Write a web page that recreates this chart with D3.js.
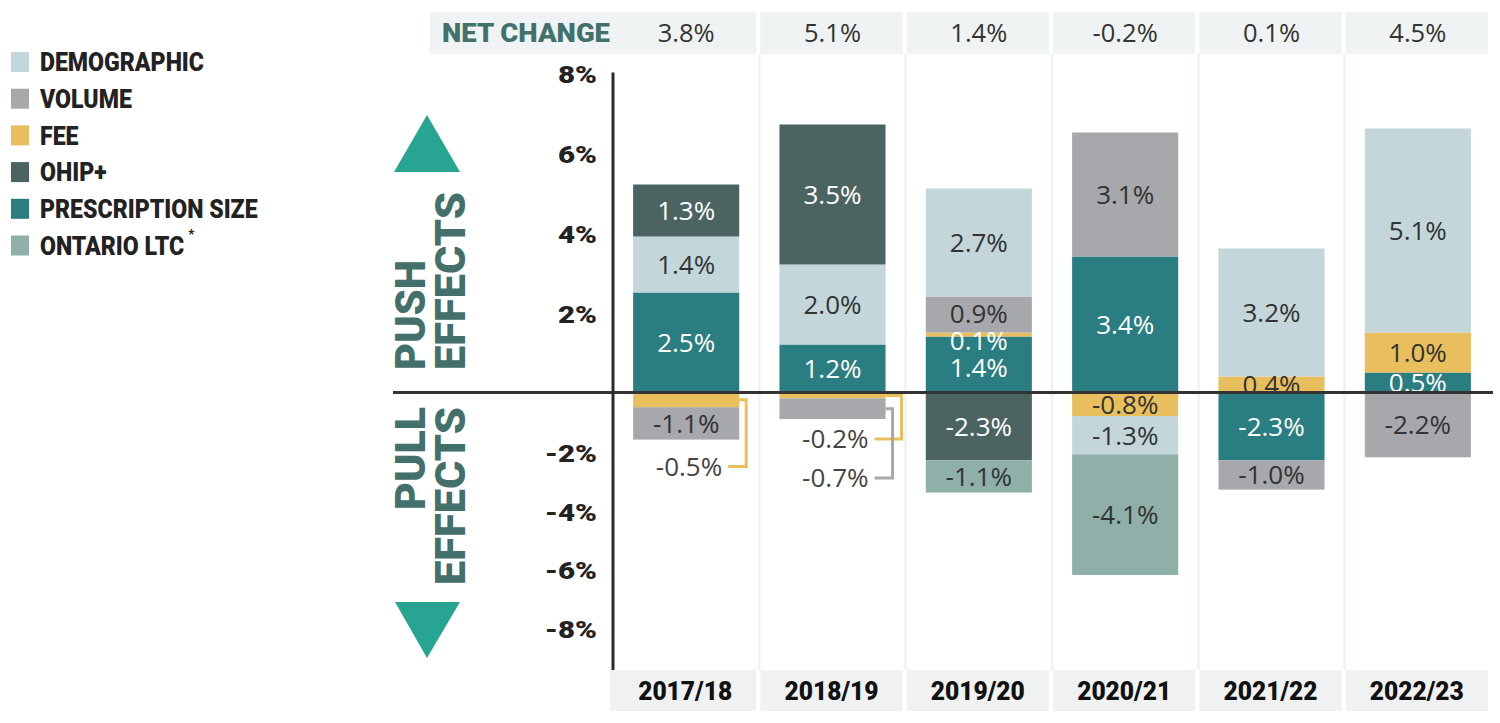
<!DOCTYPE html>
<html>
<head>
<meta charset="utf-8">
<script src="https://cdn.jsdelivr.net/npm/d3@7"></script>
<style>
  html, body { margin: 0; padding: 0; background: #fff; }
  svg { display: block; }
</style>
</head>
<body>
<svg id="chart" width="1500" height="723"></svg>
<script>
// ---------------- DATA ----------------
const years = ["2017/18", "2018/19", "2019/20", "2020/21", "2021/22", "2022/23"];
const netChange = [3.8, 5.1, 1.4, -0.2, 0.1, 4.5];
const demographic = [1.4, 2.0, 2.7, -1.3, 3.2, 5.1];
const volume = [-1.1, -0.7, 0.9, 3.1, -1.0, -2.2];
const fee = [-0.5, -0.2, 0.1, -0.8, 0.4, 1.0];
const ohip = [1.3, 3.5, -2.3, 0, 0, 0];
const prescription = [2.5, 1.2, 1.4, 3.4, -2.3, 0.5];
const ltc = [0, 0, -1.1, -4.1, 0, 0];
const yTicks = [8, 6, 4, 2, -2, -4, -6, -8];
const legendNames = ["DEMOGRAPHIC", "VOLUME", "FEE", "OHIP+", "PRESCRIPTION SIZE", "ONTARIO LTC"];
// segments whose labels are called out below the bar with a leader line
const calloutCells = [["2017/18", "fee"], ["2018/19", "fee"], ["2018/19", "volume"]];

// ---------------- SETUP ----------------
const series = {
  demographic: { values: demographic, color: "#c3d7db", text: "#333" },
  volume: { values: volume, color: "#a6a8ab", text: "#333" },
  fee: { values: fee, color: "#e8bf5c", text: "#333" },
  ohip: { values: ohip, color: "#4b6462", text: "#fff" },
  prescription: { values: prescription, color: "#2a7d80", text: "#fff" },
  ltc: { values: ltc, color: "#8eb0a8", text: "#333" }
};
const legendKeys = ["demographic", "volume", "fee", "ohip", "prescription", "ltc"];
const posOrder = ["prescription", "fee", "volume", "demographic", "ohip", "ltc"];
const negOrder = ["fee", "prescription", "ohip", "demographic", "volume", "ltc"];

const rows = years.map((yr, i) => {
  const r = { year: yr };
  legendKeys.forEach(k => r[k] = series[k].values[i]);
  return r;
});

const svg = d3.select("#chart");
const heavy = "Roboto, Lato, 'Noto Sans', sans-serif";
const regular = "'Open Sans', 'Noto Sans', sans-serif";
const teal = "#44706b";

// condense a group of heavy texts so that a reference string gets a target width
function fit(sel, refStr, target) {
  let refLen = null;
  sel.each(function () { if (this.textContent === refStr) refLen = this.getComputedTextLength(); });
  if (!refLen) return;
  const f = target / refLen;
  sel.each(function () {
    const L = this.getComputedTextLength();
    d3.select(this).attr("textLength", L * f).attr("lengthAdjust", "spacingAndGlyphs");
  });
}

const x = d3.scaleBand().domain(years).range([613, 1491]);
const y = d3.scaleLinear().domain([-8, 0, 8]).range([628, 392.5, 72.5]);
const bw = x.bandwidth();
const barW = bw * 0.725;
const barX = d => x(d) + (bw - barW) / 2;

// ---------------- HEADER ROW ----------------
const headTop = 12, headBot = 54;
svg.append("rect").attr("x", 430).attr("y", headTop)
  .attr("width", x(years[0]) + bw - 3 - 430).attr("height", headBot - headTop).attr("fill", "#f0f3f3");
svg.selectAll(".hcell").data(years.slice(1)).join("rect")
  .attr("x", d => x(d) + 1).attr("y", headTop)
  .attr("width", bw - 4).attr("height", headBot - headTop).attr("fill", "#f0f3f3");
const netLab = svg.append("text").attr("x", 442).attr("y", 33).attr("dy", "0.36em")
  .attr("font-family", heavy).attr("font-weight", 900).attr("font-size", 26)
  .attr("fill", teal).text("NET CHANGE");
fit(netLab, "NET CHANGE", 168);
svg.selectAll(".hval").data(years).join("text")
  .attr("x", d => x(d) + bw / 2).attr("y", 33).attr("dy", "0.36em")
  .attr("text-anchor", "middle").attr("font-family", regular).attr("font-size", 25.5)
  .attr("fill", "#333").text((d, i) => netChange[i].toFixed(1) + "%");

// ---------------- COLUMN SEPARATORS ----------------
svg.selectAll(".sep").data(years.slice(1)).join("line")
  .attr("x1", d => x(d)).attr("x2", d => x(d))
  .attr("y1", headBot).attr("y2", 670)
  .attr("stroke", "#eef2f2").attr("stroke-width", 2.5);

// ---------------- YEAR ROW ----------------
svg.selectAll(".ycell").data(years).join("rect")
  .attr("x", (d, i) => i === 0 ? x(d) - 3 : x(d) + 1).attr("y", 670)
  .attr("width", (d, i) => i === 0 ? bw : bw - 4).attr("height", 41).attr("fill", "#f0f2f2");
const yearLabs = svg.selectAll(".ylab").data(years).join("text")
  .attr("x", d => x(d) + bw / 2 - 1).attr("y", 691).attr("dy", "0.36em")
  .attr("text-anchor", "middle").attr("font-family", heavy).attr("font-weight", 900)
  .attr("font-size", 25).attr("fill", "#111").text(d => d);
fit(yearLabs, "2017/18", 94);

// ---------------- STACKS ----------------
const posStack = d3.stack().keys(posOrder).value((d, k) => Math.max(0, d[k]))(rows);
const negStack = d3.stack().keys(negOrder).value((d, k) => Math.min(0, d[k]))
  .offset(d3.stackOffsetDiverging)(rows);

const segments = [];
[posStack, negStack].forEach(stack => {
  stack.forEach(layer => {
    layer.forEach(p => {
      const v = p.data[layer.key];
      if (v === 0) return;
      if ((stack === posStack && v < 0) || (stack === negStack && v > 0)) return;
      segments.push({ key: layer.key, year: p.data.year, v: v, y0: p[0], y1: p[1] });
    });
  });
});

svg.append("g").selectAll("rect").data(segments).join("rect")
  .attr("x", d => barX(d.year))
  .attr("y", d => Math.min(y(d.y0), y(d.y1)))
  .attr("width", barW)
  .attr("height", d => Math.abs(y(d.y1) - y(d.y0)))
  .attr("fill", d => series[d.key].color);

// ---------------- SEGMENT LABELS ----------------
const isCallout = d => calloutCells.some(c => c[0] === d.year && c[1] === d.key);
const fmt = v => v.toFixed(1) + "%";
const segH = d => Math.abs(y(d.y1) - y(d.y0));
const tiny = d => d.v > 0 && segH(d) < 8;
const inLabels = segments.filter(d => !isCallout(d));
inLabels.forEach(d => {
  d.ly = tiny(d) ? Math.max(y(d.y0), y(d.y1)) + 6 : (y(d.y0) + y(d.y1)) / 2;
});
// spread labels in the same half-bar that sit too close together
d3.groups(inLabels, d => d.year, d => d.v > 0).forEach(([, g]) => g.forEach(([, list]) => {
  list.sort((a, b) => a.ly - b.ly);
  for (let it = 0; it < 30; it++) {
    for (let j = 1; j < list.length; j++) {
      const gap = list[j].ly - list[j - 1].ly;
      if (gap < 27) {
        const push = (27 - gap) / 2;
        list[j].ly += push; list[j - 1].ly -= push;
      }
    }
  }
}));
svg.append("g").selectAll("text").data(inLabels).join("text")
  .attr("x", d => barX(d.year) + barW / 2)
  .attr("y", d => d.ly)
  .attr("dy", "0.36em")
  .attr("text-anchor", "middle").attr("font-family", regular).attr("font-size", 26)
  .attr("fill", d => tiny(d) ? "#fff" : series[d.key].text)
  .text(d => fmt(d.v));

// ---------------- CALLOUTS ----------------
const callouts = segments.filter(isCallout);
callouts.forEach(d => {
  const group = callouts.filter(c => c.year === d.year);
  const idx = group.indexOf(d);
  const bottom = d3.max(segments.filter(s => s.year === d.year), s => Math.max(y(s.y0), y(s.y1)));
  const nInGroup = group.length;
  const ly = nInGroup === 1 ? bottom + 27 : bottom + 20 + idx * 39;
  const right = barX(d.year) + barW;
  const out = nInGroup === 1 ? 7 : (idx === 0 ? 16 : 7);
  const midY = (y(d.y0) + y(d.y1)) / 2;
  const col = d.key === "fee" ? "#e8bf5c" : "#a6a8ab";
  svg.append("path")
    .attr("d", `M${right},${midY}H${right + out}V${ly}H${right - 11}`)
    .attr("fill", "none").attr("stroke", col).attr("stroke-width", 3);
  svg.append("text").attr("x", right - 17).attr("y", ly).attr("dy", "0.36em")
    .attr("text-anchor", "end").attr("font-family", regular).attr("font-size", 26)
    .attr("fill", "#444").text(fmt(d.v));
});

// ---------------- AXES ----------------
svg.append("line").attr("x1", 393).attr("x2", 1493).attr("y1", y(0)).attr("y2", y(0))
  .attr("stroke", "#333").attr("stroke-width", 3);
svg.append("line").attr("x1", 613).attr("x2", 613).attr("y1", y(8)).attr("y2", 670)
  .attr("stroke", "#2b2b2b").attr("stroke-width", 3);

const yAxis = d3.axisLeft(y).tickValues(yTicks).tickSize(0).tickPadding(16)
  .tickFormat(d => d + "%");
const ag = svg.append("g").attr("transform", "translate(613,2)").call(yAxis);
ag.select(".domain").remove();
const tickTexts = ag.selectAll("text").attr("font-family", heavy).attr("font-weight", 900)
  .attr("font-size", 24.5).attr("fill", "#222");
fit(tickTexts, "8%", 39);

// ---------------- PUSH / PULL ----------------
const arrowColor = "#28a592";
svg.append("path").attr("d", d3.line()([[394, 172], [460, 172], [427, 115]]) + "Z").attr("fill", arrowColor);
svg.append("path").attr("d", d3.line()([[395, 602], [460, 602], [427, 658]]) + "Z").attr("fill", arrowColor);

function vtext(cx, yy, anchor, str, len) {
  const t = svg.append("text").attr("transform", `translate(${cx},${yy}) rotate(-90)`)
    .attr("dy", "0.36em").attr("text-anchor", anchor)
    .attr("font-family", heavy).attr("font-weight", 900).attr("font-size", 42)
    .attr("fill", teal).text(str);
  t.attr("textLength", len).attr("lengthAdjust", "spacingAndGlyphs");
}
vtext(410, 370, "start", "PUSH", 110);
vtext(450, 370, "start", "EFFECTS", 178);
vtext(410, 407, "end", "PULL", 103);
vtext(450, 407, "end", "EFFECTS", 178);

// ---------------- LEGEND ----------------
const lg = svg.append("g");
legendKeys.forEach((k, i) => {
  const cy = 62 + i * 36.7;
  lg.append("rect").attr("x", 11).attr("y", cy - 10).attr("width", 18).attr("height", 20)
    .attr("fill", series[k].color);
  lg.append("text").attr("class", "lgt").attr("x", 40).attr("y", cy).attr("dy", "0.36em")
    .attr("font-family", heavy).attr("font-weight", 900).attr("font-size", 26)
    .attr("fill", "#222").text(legendNames[i]);
});
const lgTexts = lg.selectAll("text.lgt");
fit(lgTexts, "DEMOGRAPHIC", 164);
// superscript asterisk after ONTARIO LTC
lgTexts.filter((d, i) => i === legendKeys.indexOf("ltc")).each(function () {
  const w = +this.getAttribute("textLength");
  const cy = +this.getAttribute("y");
  lg.append("text").attr("x", 40 + w + 4).attr("y", cy - 8)
    .attr("font-family", heavy).attr("font-weight", 900).attr("font-size", 13)
    .attr("fill", "#222").text("*");
});
</script>
</body>
</html>
